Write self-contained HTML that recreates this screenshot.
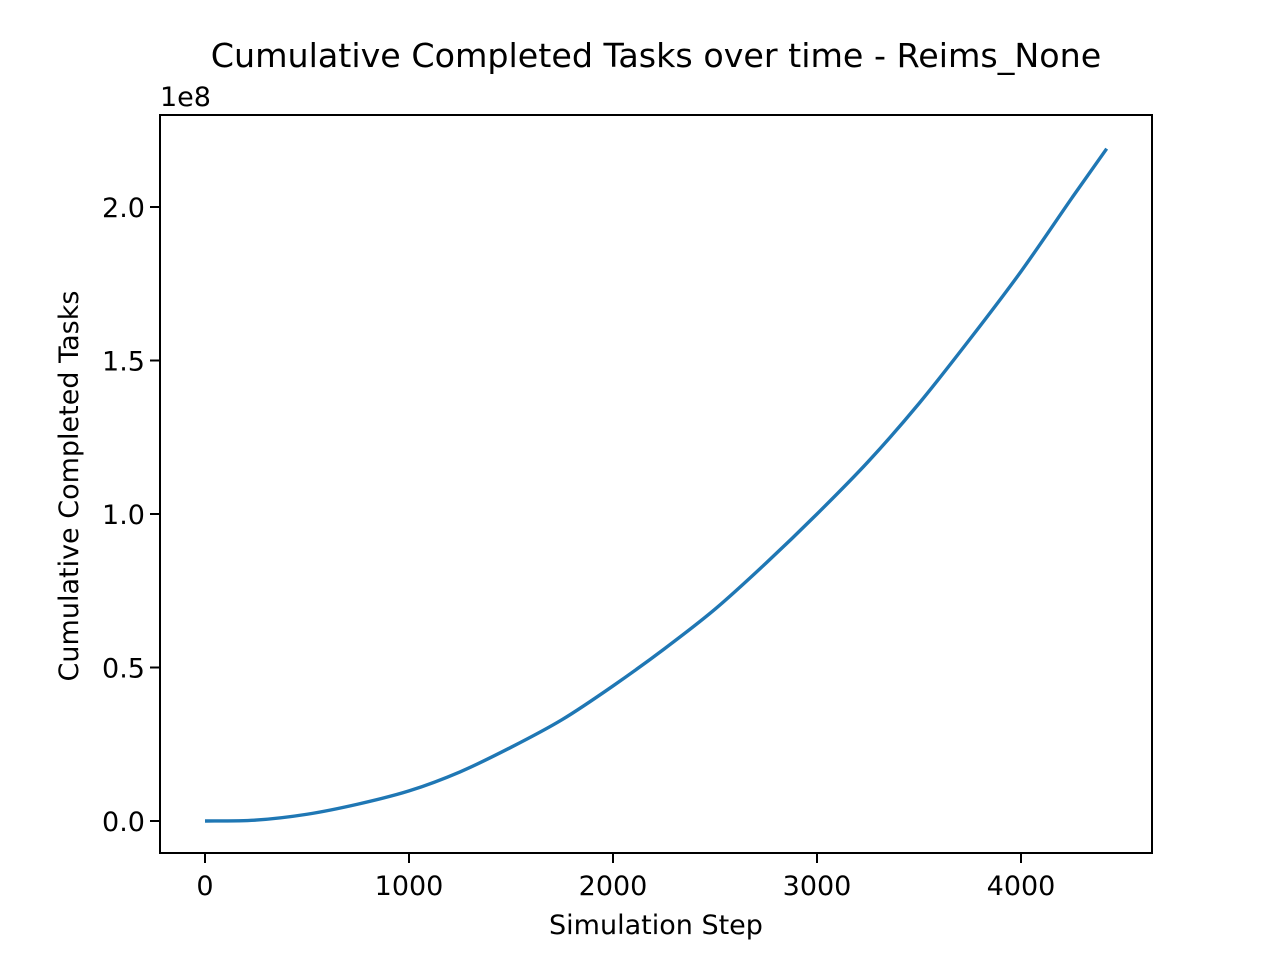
<!DOCTYPE html>
<html><head><meta charset="utf-8"><style>
body{margin:0;background:#fff;}
svg text{font-family:"DejaVu Sans","Liberation Sans",sans-serif;fill:#000;}
</style></head><body>
<svg id="chart" width="1280" height="960" xmlns="http://www.w3.org/2000/svg">
<rect width="1280" height="960" fill="#fff"/>
<text x="656" y="67" font-size="33.3" text-anchor="middle">Cumulative Completed Tasks over time - Reims_None</text>
<g id="axes"></g>
<text x="656" y="934" font-size="27" text-anchor="middle">Simulation Step</text>
<text transform="translate(78,486) rotate(-90)" font-size="27" text-anchor="middle">Cumulative Completed Tasks</text>
<text x="160" y="106" font-size="27">1e8</text>
</svg>
<script>
const steps=[0,250,500,750,1000,1250,1500,1750,2000,2250,2500,2750,3000,3250,3500,3750,4000,4250,4420];
const tasks=[0,0.003,0.022,0.055,0.098,0.16,0.24,0.33,0.44,0.56,0.69,0.84,1.0,1.17,1.36,1.57,1.79,2.03,2.19];
const xTicks=[0,1000,2000,3000,4000];
const yTicks=[0,0.5,1.0,1.5,2.0];
const yTickLabels=["0.0","0.5","1.0","1.5","2.0"];
const L=160,R=1152,T=115,B=853;
const sx=v=>205+v*0.204;
const sy=v=>821-v*307;
const ns="http://www.w3.org/2000/svg";
const g=document.getElementById('axes');
function mk(t,a){const e=document.createElementNS(ns,t);for(const k in a)e.setAttribute(k,a[k]);g.appendChild(e);return e;}
xTicks.forEach(v=>{
 const l=mk('line',{x1:sx(v),x2:sx(v),y1:B,y2:B+10,stroke:'#000','stroke-width':2});
 
 
 const t=mk('text',{x:sx(v),y:B+42,'font-size':27,'text-anchor':'middle'});t.textContent=v;
 
 
});
yTicks.forEach((v,i)=>{
 const l=mk('line',{x1:L-10,x2:L,y1:sy(v),y2:sy(v),stroke:'#000','stroke-width':2});
 
 
 const t=mk('text',{x:L-15,y:sy(v)+10,'font-size':27,'text-anchor':'end'});t.textContent=yTickLabels[i];
 
 
});
const P=steps.map((s,i)=>[sx(s),sy(tasks[i])]);
let d='M'+P[0][0]+','+P[0][1];
for(let i=0;i<P.length-1;i++){
 const p0=P[Math.max(i-1,0)],p1=P[i],p2=P[i+1],p3=P[Math.min(i+2,P.length-1)];
 d+=' C'+(p1[0]+(p2[0]-p0[0])/6)+','+(p1[1]+(p2[1]-p0[1])/6)+' '+(p2[0]-(p3[0]-p1[0])/6)+','+(p2[1]-(p3[1]-p1[1])/6)+' '+p2[0]+','+p2[1];
}
const p=mk('path',{d:d,fill:'none',stroke:'#1f77b4','stroke-width':3.4,'stroke-linejoin':'round'});


const f=mk('rect',{x:L,y:T,width:R-L,height:B-T,fill:'none',stroke:'#000','stroke-width':2});


</script>
</body></html>
